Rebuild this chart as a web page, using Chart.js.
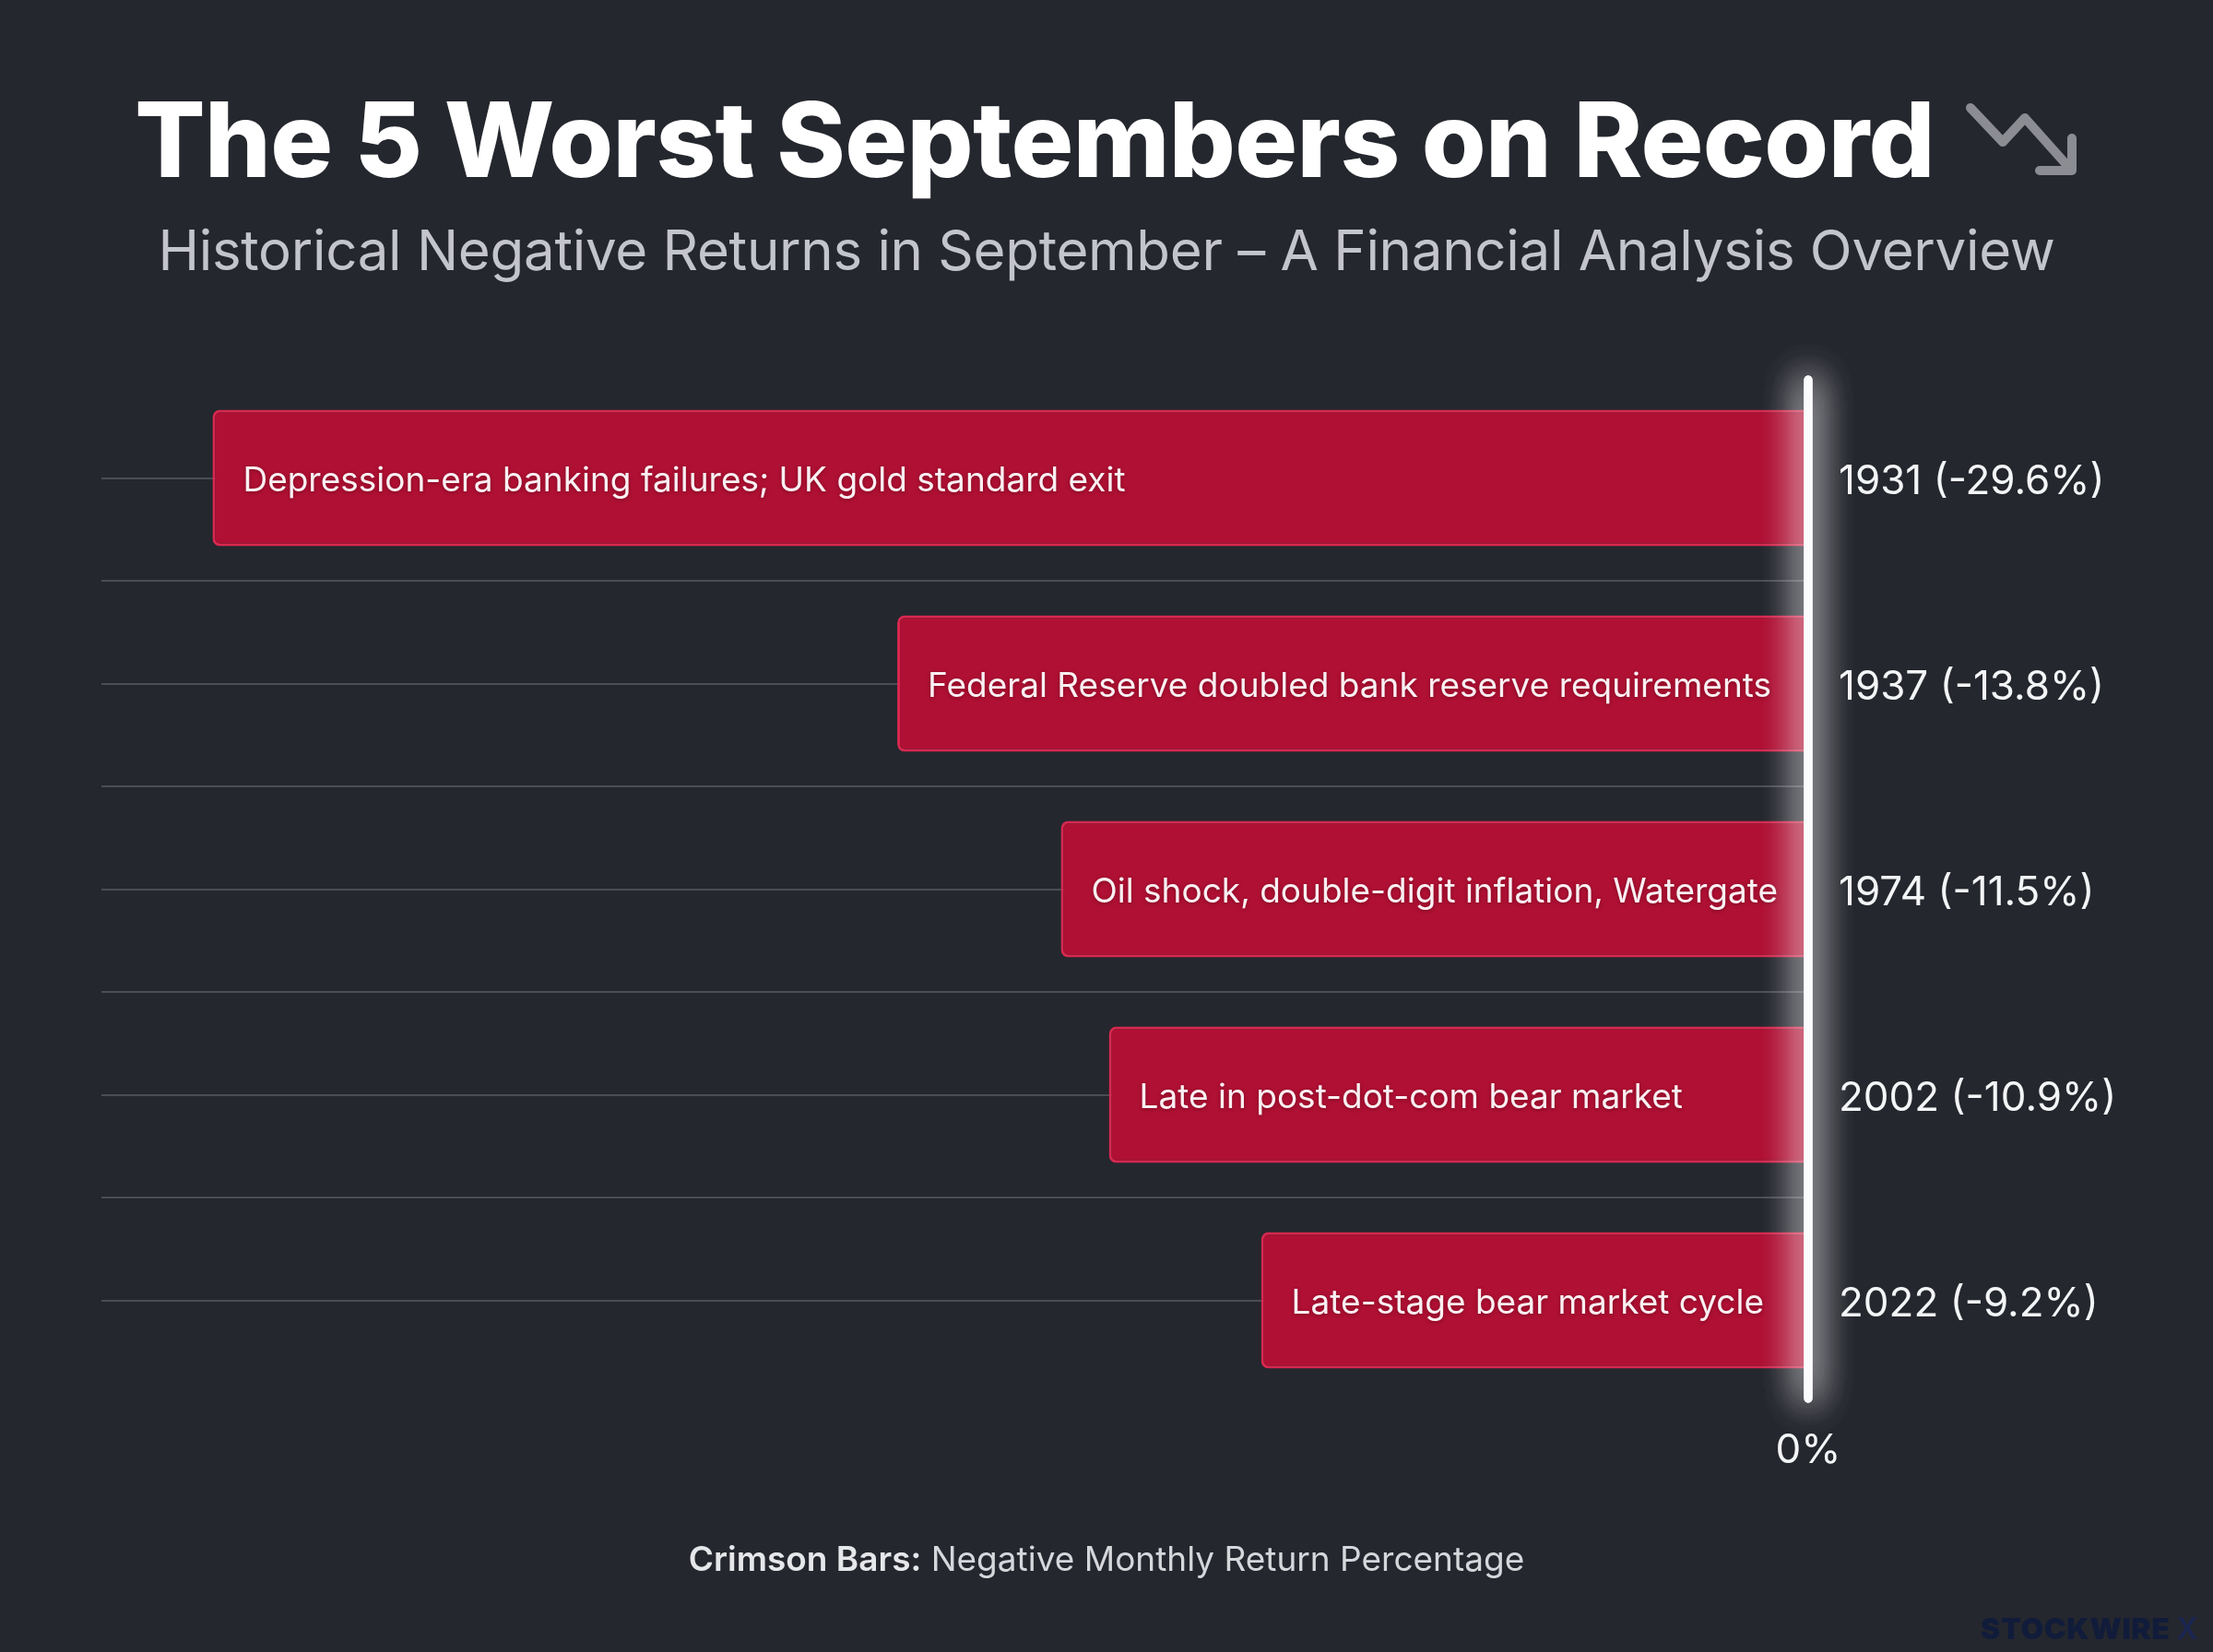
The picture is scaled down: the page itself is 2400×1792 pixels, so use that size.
<!DOCTYPE html>
<html>
<head>
<meta charset="utf-8">
<title>The 5 Worst Septembers on Record</title>
<script src="https://cdn.jsdelivr.net/npm/chart.js@4.4.1/dist/chart.umd.min.js"></script>
<style>
  html, body { margin: 0; padding: 0; background: #25272e; overflow: hidden; }
  #page { position: relative; width: 2400px; height: 1792px; overflow: hidden; font-family: Inter, "Noto Sans", sans-serif; }
  #chart-wrap { position: absolute; left: 0; top: 0; width: 2400px; height: 1792px; }
  .title-row { position: absolute; left: 0; top: 95px; width: 2400px; display: flex; justify-content: center; align-items: center; gap: 34px; }
  .title-row h1 { margin: 0; font-size: 113px; line-height: 1; font-weight: 800; color: #ffffff; letter-spacing: -0.6px; }
  .subtitle { position: absolute; left: 0; top: 241px; width: 2400px; text-align: center; font-size: 60px; line-height: 1; color: #c3c5cb; letter-spacing: -0.3px; }
  .footer { position: absolute; left: 0; top: 1672px; width: 2400px; text-align: center; font-size: 37px; line-height: 1; color: #d5d7db; }
  .footer b { font-weight: 600; color: #e6e7ea; }
  .mark { position: absolute; left: 2148px; top: 1751px; white-space: nowrap; font-size: 32px; line-height: 1; font-weight: 900; color: #111c3b; letter-spacing: 0.6px; }
  .mark span { color: #1a2550; font-weight: 600; }
</style>
</head>
<body>
<div id="page">
  <div id="chart-wrap"><canvas id="worst-septembers"></canvas></div>
  <div class="title-row">
    <h1>The 5 Worst Septembers on Record</h1>
    <svg width="122" height="80" viewBox="0 0 122 80">
      <polyline points="5,5 40,42 64,16 113,71" fill="none" stroke="#8b8d93" stroke-width="10" stroke-linecap="round" stroke-linejoin="round"/>
      <polyline points="115,38 115,73 80,73" fill="none" stroke="#8b8d93" stroke-width="10" stroke-linecap="round" stroke-linejoin="round"/>
    </svg>
  </div>
  <div class="subtitle">Historical Negative Returns in September – A Financial Analysis Overview</div>
  <div class="footer"><b>Crimson Bars:</b> Negative Monthly Return Percentage</div>
  <div class="mark">STOCKWIRE <span>X</span></div>
</div>

<script>
var years = ["1931", "1937", "1974", "2002", "2022"];
var returns = [-29.6, -13.8, -11.5, -10.9, -9.2];
var descriptions = [
    "Depression-era banking failures; UK gold standard exit",
    "Federal Reserve doubled bank reserve requirements",
    "Oil shock, double-digit inflation, Watergate",
    "Late in post-dot-com bear market",
    "Late-stage bear market cycle"
];
var zeroLabel = "0%";

var gridColor = '#4a4d55';

// text inside each bar, left aligned
var barText = {
    id: 'barText',
    afterDatasetsDraw: function(chart) {
        var ctx = chart.ctx;
        var meta = chart.getDatasetMeta(0);
        ctx.save();
        ctx.font = '400 37px Inter';
        ctx.fillStyle = '#f9eff2';
        ctx.textBaseline = 'middle';
        ctx.textAlign = 'left';
        ctx.shadowColor = 'rgba(60,0,10,0.45)';
        ctx.shadowBlur = 4;
        ctx.shadowOffsetY = 1;
        meta.data.forEach(function(bar, i) {
            var left = Math.min(bar.x, bar.base);
            ctx.fillText(descriptions[i], left + 33, bar.y + 3);
        });
        ctx.restore();
    }
};

// glowing zero line at the right edge of the plot
var zeroLine = {
    id: 'zeroLine',
    afterDatasetsDraw: function(chart) {
        var ctx = chart.ctx;
        var a = chart.chartArea;
        var x = a.right;
        ctx.save();
        ctx.strokeStyle = '#fbfbfd';
        ctx.lineWidth = 9;
        ctx.lineCap = 'round';
        ctx.shadowColor = 'rgba(255,255,255,0.8)';
        ctx.shadowBlur = 40;
        for (var k = 0; k < 3; k++) {
            ctx.beginPath();
            ctx.moveTo(x, a.top + 5);
            ctx.lineTo(x, a.bottom - 5);
            ctx.stroke();
        }
        ctx.restore();
    }
};

function draw() {
    Chart.defaults.font.family = 'Inter';
    var ctx = document.getElementById('worst-septembers').getContext('2d');
    new Chart(ctx, {
        type: 'bar',
        data: {
            labels: years,
            datasets: [{
                label: 'Negative Monthly Return Percentage',
                data: returns.map(function(r) { return Math.abs(r); }),
                backgroundColor: '#b01034',
                borderColor: '#d8284f',
                borderWidth: 3,
                borderRadius: 8,
                barPercentage: 0.83,
                categoryPercentage: 0.8
            }]
        },
        options: {
            indexAxis: 'y',
            responsive: true,
            maintainAspectRatio: false,
            animation: false,
            layout: { padding: { left: 110, top: 407, right: 0, bottom: 170 } },
            scales: {
                x: {
                    type: 'logarithmic',
                    reverse: true,
                    min: 5,
                    max: 33.5,
                    position: 'bottom',
                    grid: { display: false },
                    border: { display: false },
                    afterBuildTicks: function(scale) { scale.ticks = [{ value: 5 }]; },
                    afterFit: function(scale) { scale.height = 100; },
                    ticks: {
                        color: '#f4f5f7',
                        font: { size: 44 },
                        padding: 17,
                        callback: function() { return zeroLabel; }
                    }
                },
                y: {
                    position: 'right',
                    afterFit: function(scale) { scale.width = 439; },
                    border: { display: false },
                    grid: {
                        offset: true,
                        drawTicks: false,
                        lineWidth: 2,
                        color: function(c) { return c.index > 0 ? gridColor : 'transparent'; }
                    },
                    ticks: {
                        color: '#f4f5f7',
                        font: { size: 44 },
                        padding: 33,
                        labelOffset: 4,
                        callback: function(value, i) {
                            return years[i] + ' (' + returns[i].toFixed(1) + '%)';
                        }
                    }
                },
                y2: {
                    type: 'category',
                    position: 'left',
                    offset: true,
                    border: { display: false },
                    grid: { offset: false, drawTicks: false, lineWidth: 2, color: gridColor },
                    ticks: { display: false }
                }
            },
            plugins: {
                legend: { display: false },
                tooltip: { enabled: false }
            }
        },
        plugins: [barText, zeroLine]
    });
}

if (document.fonts && document.fonts.load) {
    Promise.all([document.fonts.load('400 37px Inter'), document.fonts.load('400 44px Inter')]).then(draw, draw);
} else {
    draw();
}
</script>
</body>
</html>
